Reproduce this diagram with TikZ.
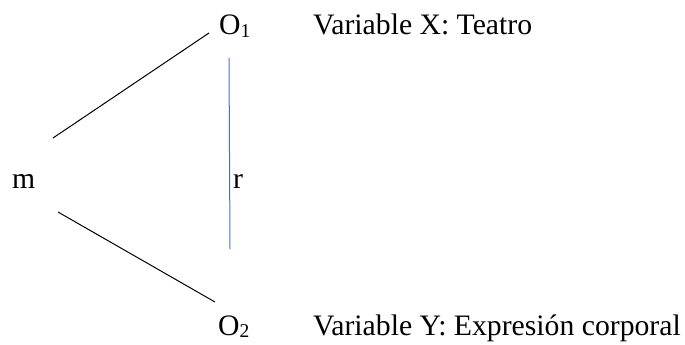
\documentclass[tikz,border=0pt]{standalone}
\usepackage{fontspec}
\setmainfont{Liberation Serif}
\newcommand{\lowsub}[1]{\raisebox{-2.2pt}{\fontsize{19.5}{19.5}\selectfont #1}}
\definecolor{lineblue}{RGB}{68,114,196}
\begin{document}
\begin{tikzpicture}[x=1pt,y=-1pt,
  lbl/.style={inner sep=0pt,anchor=base west,font=\fontsize{29.7}{35}\selectfont},
  conn/.style={line width=1pt,black},
  rconn/.style={line width=1pt,lineblue}]
\useasboundingbox (0,0) rectangle (685,345);
\node[lbl] (m) at (12,188) {m};
\node[lbl] (r) at (233,188) {r};
\node[lbl] (o1) at (219,35) {O\lowsub{1}};
\node[lbl] (o2) at (218,335) {O\lowsub{2}};
\node[lbl] (vx) at (313,35) {Variable X: Teatro};
\node[lbl] (vy) at (313,335) {Variable Y: Expresión corporal};
\coordinate (mup) at (53,138);
\coordinate (o1end) at (209,33);
\coordinate (mdown) at (58,212);
\coordinate (o2end) at (215,302);
\coordinate (rtop) at (229,58);
\coordinate (rbot) at (230,249);
\draw[conn] (mup) -- (o1end);
\draw[conn] (mdown) -- (o2end);
\draw[rconn] (rtop) -- (rbot);
\end{tikzpicture}
\end{document}
